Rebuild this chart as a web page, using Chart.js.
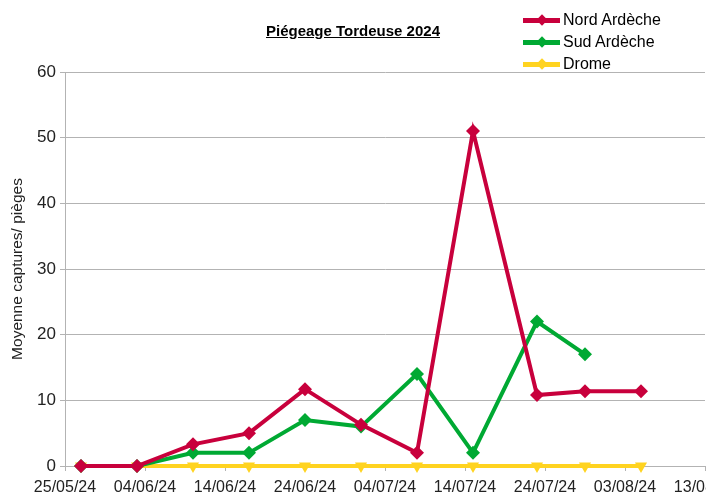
<!DOCTYPE html>
<html>
<head>
<meta charset="utf-8">
<script src="https://cdn.jsdelivr.net/npm/chart.js@4"></script>
<style>
  html, body { margin: 0; padding: 0; background: #fff; overflow: hidden; }
  body { width: 706px; height: 497px; position: relative; }
  #wrap { position: absolute; left: 0; top: 0; width: 745px; height: 497px; }
  .title {
    position: absolute; left: 0; width: 706px; top: 22px; text-align: center;
    font: bold 15px "Liberation Sans", sans-serif;
    text-decoration: underline; color: #000;
  }
  .legend { position: absolute; left: 523px; top: 9px; font: 16px "Liberation Sans", sans-serif; color: #000; }
  .legend div { height: 22px; line-height: 22px; position: relative; padding-left: 40px; white-space: nowrap; }
  .legend .line { position: absolute; left: 0; top: 9px; width: 37px; height: 5px; }
  .legend .mark { position: absolute; left: 15px; top: 7px; width: 8px; height: 8px; transform: rotate(45deg); }
</style>
</head>
<body>
<div id="wrap"><canvas id="myChart"></canvas></div>
<div class="title">Piégeage Tordeuse 2024</div>
<div class="legend" id="legend"></div>
<script>
const startDate = "25/05/24";
const dates = ["27/05/24", "03/06/24", "10/06/24", "17/06/24", "24/06/24", "01/07/24", "08/07/24", "15/07/24", "23/07/24", "29/07/24", "05/08/24"];
const nordArdeche = [0, 0, 3.3, 5, 11.7, 6.3, 2, 51, 10.8, 11.4, 11.4];
const sudArdeche = [0, 0, 2, 2, 7, 6, 14, 2, 22, 17];
const drome = [0, 0, 0, 0, 0, 0, 0, 0, 0, 0, 0];
const seriesNames = ["Nord Ardèche", "Sud Ardèche", "Drome"];
const colors = ["#c8003c", "#00a933", "#ffd320"];

const DAY = 86400000;

function parseDate(str) {
  const [d, m, y] = str.split("/").map(Number);
  return Date.UTC(2000 + y, m - 1, d);
}

function formatDate(days) {
  const date = new Date(parseDate(startDate) + days * DAY);
  const dd = String(date.getUTCDate()).padStart(2, "0");
  const mm = String(date.getUTCMonth() + 1).padStart(2, "0");
  const yy = String(date.getUTCFullYear()).slice(2);
  return `${dd}/${mm}/${yy}`;
}

const xDays = dates.map((d) => Math.round((parseDate(d) - parseDate(startDate)) / DAY));

function toPoints(values) {
  return values.map((v, i) => ({ x: xDays[i], y: v }));
}

const font = "'Liberation Sans', sans-serif";
const allSeries = [nordArdeche, sudArdeche, drome];

// dataset 0 (Nord) is painted last, so it sits on top
const datasets = allSeries.map((values, i) => ({
  label: seriesNames[i],
  data: toPoints(values),
  borderColor: colors[i],
  backgroundColor: colors[i],
  borderWidth: 4,
  pointStyle: i === 2 ? "triangle" : "rectRot",
  rotation: i === 2 ? 180 : 0,
  pointRadius: 7,
  pointBorderWidth: 0,
  tension: 0,
  clip: false,
}));

const legend = document.querySelector("#legend");
seriesNames.forEach((name, i) => {
  const row = document.createElement("div");
  row.innerHTML = `<span class="line" style="background:${colors[i]}"></span><span class="mark" style="background:${colors[i]}"></span>${name}`;
  legend.appendChild(row);
});

const ctx = document.querySelector("#myChart");
new Chart(ctx, {
  type: "line",
  data: { datasets },
  options: {
    responsive: true,
    maintainAspectRatio: false,
    animation: false,
    layout: { padding: { top: 72, right: 40, left: 0, bottom: 0 } },
    plugins: {
      legend: { display: false },
      title: { display: false },
      tooltip: { enabled: false },
    },
    scales: {
      x: {
        type: "linear",
        min: 0,
        max: 80,
        ticks: {
          stepSize: 10,
          color: "#222",
          font: { family: font, size: 16 },
          padding: 7,
          maxRotation: 0,
          callback: (v) => formatDate(v),
        },
        grid: { drawOnChartArea: false, drawTicks: true, tickLength: 5, color: "#b3b3b3" },
        border: { color: "#b3b3b3", width: 1 },
        afterFit: (scale) => { scale.height = 31; },
      },
      y: {
        min: 0,
        max: 60,
        ticks: {
          stepSize: 10,
          color: "#222",
          font: { family: font, size: 17 },
          padding: 4,
        },
        grid: { color: "#b3b3b3", lineWidth: 1, tickLength: 5 },
        border: { color: "#b3b3b3", width: 1 },
        title: {
          display: true,
          text: "Moyenne captures/ pièges",
          color: "#222",
          font: { family: font, size: 15.5 },
          padding: { top: 8, bottom: 0 },
        },
        afterFit: (scale) => { scale.width = 65; },
      },
    },
  },
});
</script>
</body>
</html>
